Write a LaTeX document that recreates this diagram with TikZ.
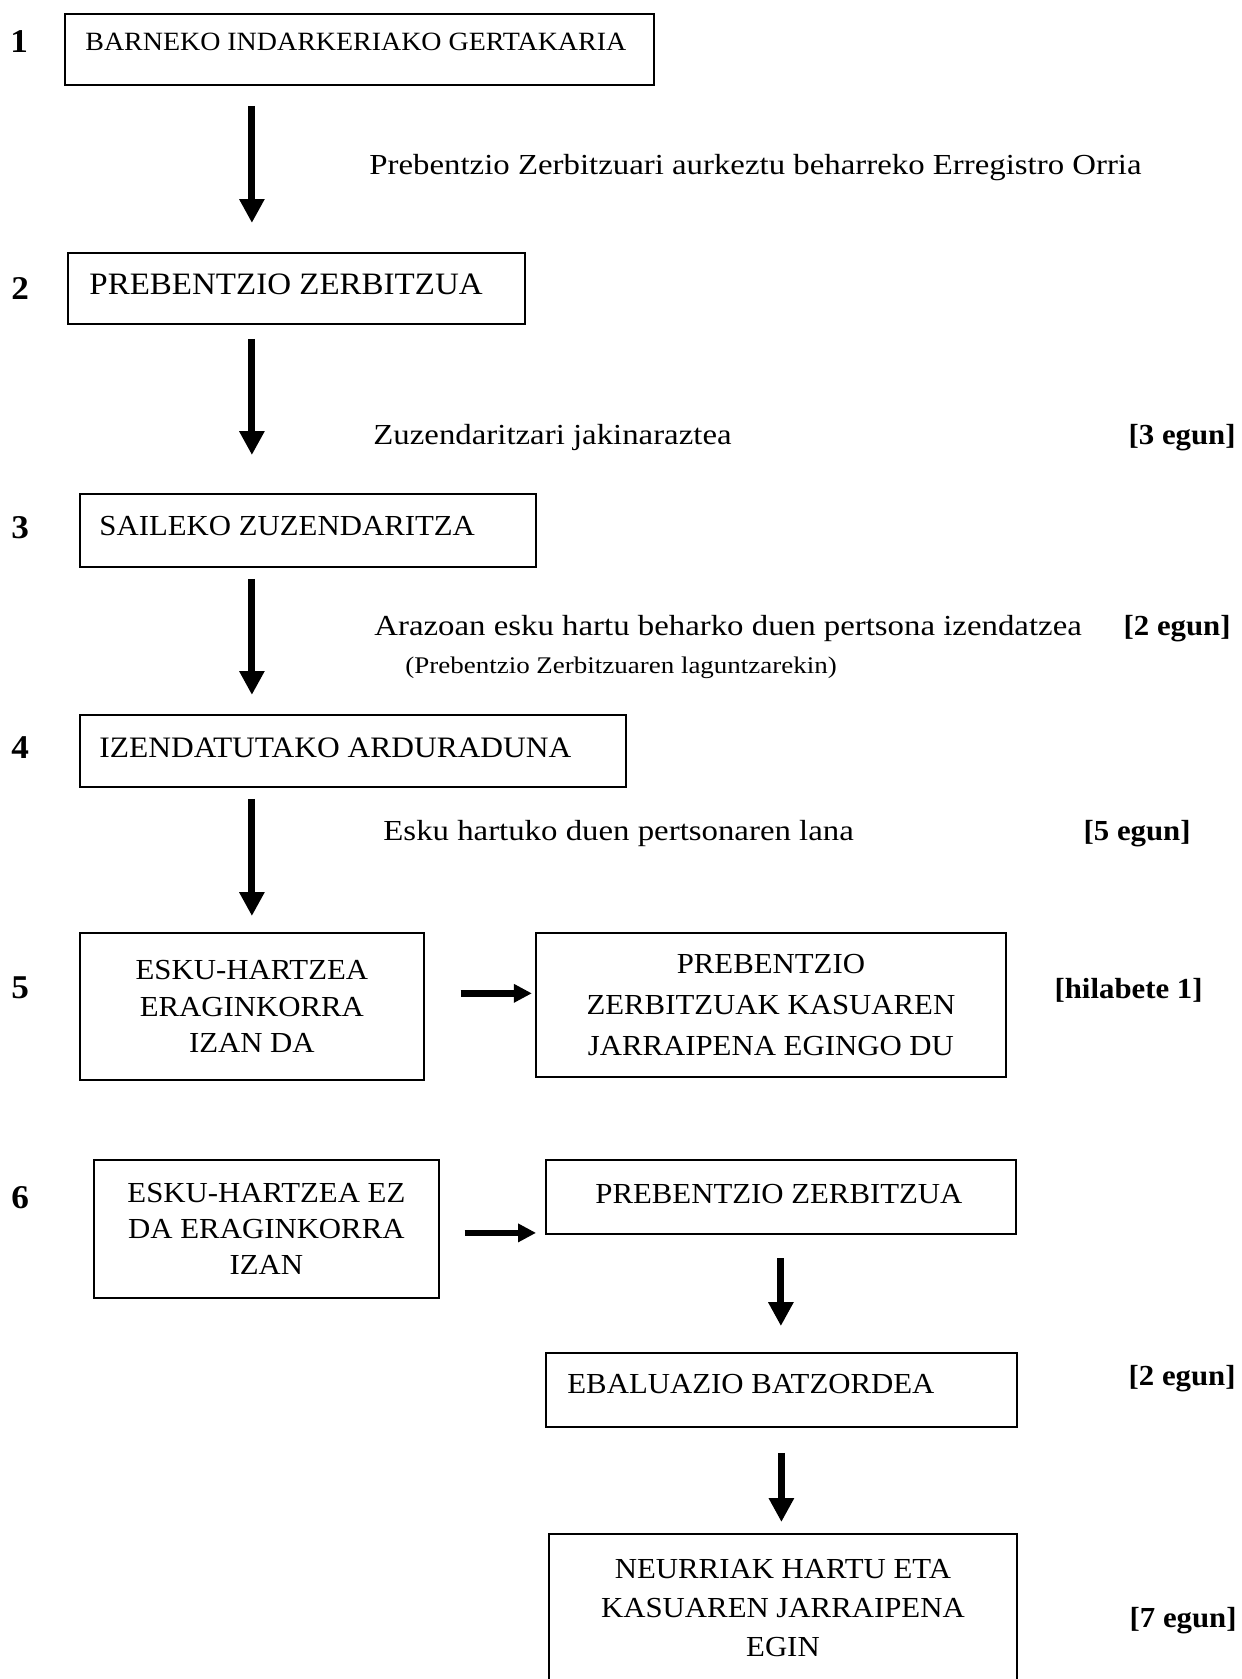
\documentclass[tikz,border=0pt]{standalone}
\usepackage{fontspec}
\setmainfont{Liberation Serif}[FakeStretch=1.06]
\newfontfamily\notefont{Liberation Serif}[FakeStretch=1.13]
\usetikzlibrary{arrows.meta}
\tikzset{box/.style={draw, line width=0.9pt, anchor=north west, inner sep=0pt, align=center, font=\fontsize{14}{18}\selectfont},
  txt/.style={anchor=base west, inner sep=0pt, font=\fontsize{14}{17}\selectfont},
  note/.style={anchor=base west, inner sep=0pt, font=\notefont\fontsize{14}{17}\selectfont},
  days/.style={anchor=base east, inner sep=0pt, font=\fontsize{14}{17}\selectfont\bfseries},
  num/.style={anchor=base west, inner sep=0pt, font=\fontsize{16}{19}\selectfont\bfseries},
  down/.style={line width=3.4pt, -{Triangle[length=11.5pt,width=11.5pt]}},
  across/.style={line width=3.2pt, -{Triangle[length=8.7pt,width=8.5pt]}}}

\begin{document}
\begin{tikzpicture}[x=0.4818pt, y=-0.4818pt]
  \useasboundingbox (0,0) rectangle (1241,1679);
  % step numbers
  \node[num] (n1) at (10,  53) {1};
  \node[num] (n2) at (11, 300) {2};
  \node[num] (n3) at (11, 538) {3};
  \node[num] (n4) at (11, 758) {4};
  \node[num] (n5) at (11, 998) {5};
  \node[num] (n6) at (11,1208) {6};

  % boxes
  \node[box, minimum width=283.8pt, minimum height=34.2pt] (b1) at ( 64,  13) {};
  \node[txt, font=\fontsize{12.7}{15}\selectfont] (t1) at (85, 51) {BARNEKO INDARKERIAKO GERTAKARIA};
  \node[box, minimum width=220.2pt, minimum height=34.2pt] (b2) at ( 67, 252) {};
  \node[txt, font=\fontsize{15}{18}\selectfont] (t2) at (89,295) {PREBENTZIO ZERBITZUA};
  \node[box, minimum width=219.7pt, minimum height=35.2pt] (b3) at ( 79, 493) {};
  \node[txt] (t3) at (99,535) {SAILEKO ZUZENDARITZA};
  \node[box, minimum width=263.1pt, minimum height=34.7pt] (b4) at ( 79, 714) {};
  \node[txt, font=\fontsize{14.3}{17}\selectfont] (t4) at (99,757) {IZENDATUTAKO ARDURADUNA};
  \node[box, minimum width=165.7pt, minimum height=70.8pt, font=\fontsize{14}{17.6}\selectfont] (b5a) at ( 79, 932)
    {ESKU-HARTZEA\\ERAGINKORRA\\IZAN DA};
  \node[box, minimum width=226.4pt, minimum height=69.4pt, font=\fontsize{14}{19.7}\selectfont] (b5b) at (535, 932)
    {PREBENTZIO\\ZERBITZUAK KASUAREN\\JARRAIPENA EGINGO DU};
  \node[box, minimum width=166.2pt, minimum height=66.5pt, font=\fontsize{14}{17.3}\selectfont] (b6a) at ( 93,1159)
    {ESKU-HARTZEA EZ\\DA ERAGINKORRA\\IZAN};
  \node[box, minimum width=226.4pt, minimum height=35.7pt] (b6b) at (545,1159) {};
  \node[txt] (t6b) at (595,1203) {PREBENTZIO ZERBITZUA};
  \node[box, minimum width=226.9pt, minimum height=35.7pt] (b7) at (545,1352) {};
  \node[txt] (t7) at (567,1393) {EBALUAZIO BATZORDEA};
  \node[box, minimum width=225.5pt, minimum height=71.8pt, font=\fontsize{14}{18.8}\selectfont] (b8) at (548,1533)
    {NEURRIAK HARTU ETA\\KASUAREN JARRAIPENA\\EGIN};

  % arrows
  \draw[down, shorten <=9.6pt, shorten >=14pt]  (b1.south -| b5a.north) -- (b2.north -| b5a.north);
  \draw[down, shorten <=6.7pt, shorten >=18.3pt] (b2.south -| b5a.north) -- (b3.north -| b5a.north);
  \draw[down, shorten <=5.3pt, shorten >=9.2pt]  (b3.south -| b5a.north) -- (b4.north -| b5a.north);
  \draw[down, shorten <=5.3pt, shorten >=7.7pt]  (b4.south -| b5a.north) -- (b5a.north);
  \draw[across, shorten <=17.3pt, shorten >=1.5pt] ([yshift=6.3pt]b5a.east) -- ([yshift=6.3pt]b5a.east -| b5b.west);
  \draw[across, shorten <=12pt, shorten >=4.3pt] ([yshift=-1.9pt]b6a.east) -- ([yshift=-1.9pt]b6a.east -| b6b.west);
  \draw[down, shorten <=11.1pt, shorten >=12.5pt] (b6b.south) -- (b6b.south |- b7.north);
  \draw[down, shorten <=12pt, shorten >=5.3pt]   (b7.south) -- (b7.south |- b8.north);

  % labels
  \node[note] (l1) at (369,175) {Prebentzio Zerbitzuari aurkeztu beharreko Erregistro Orria};
  \node[note] (l2) at (373,445) {Zuzendaritzari jakinaraztea};
  \node[days] (d2) at (1236,445) {[3 egun]};
  \node[note] (l3) at (374,635) {Arazoan esku hartu beharko duen pertsona izendatzea};
  \node[days] (d3) at (1231,635) {[2 egun]};
  \node[note, font=\notefont\fontsize{11.5}{14}\selectfont] (l3b) at (405,673) {(Prebentzio Zerbitzuaren laguntzarekin)};
  \node[note] (l4) at (383,840) {Esku hartuko duen pertsonaren lana};
  \node[days] (d4) at (1191,840) {[5 egun]};
  \node[days] (d5) at (1203,998) {[hilabete 1]};
  \node[days] (d7) at (1236,1385) {[2 egun]};
  \node[days] (d8) at (1237,1627) {[7 egun]};
\end{tikzpicture}
\end{document}
